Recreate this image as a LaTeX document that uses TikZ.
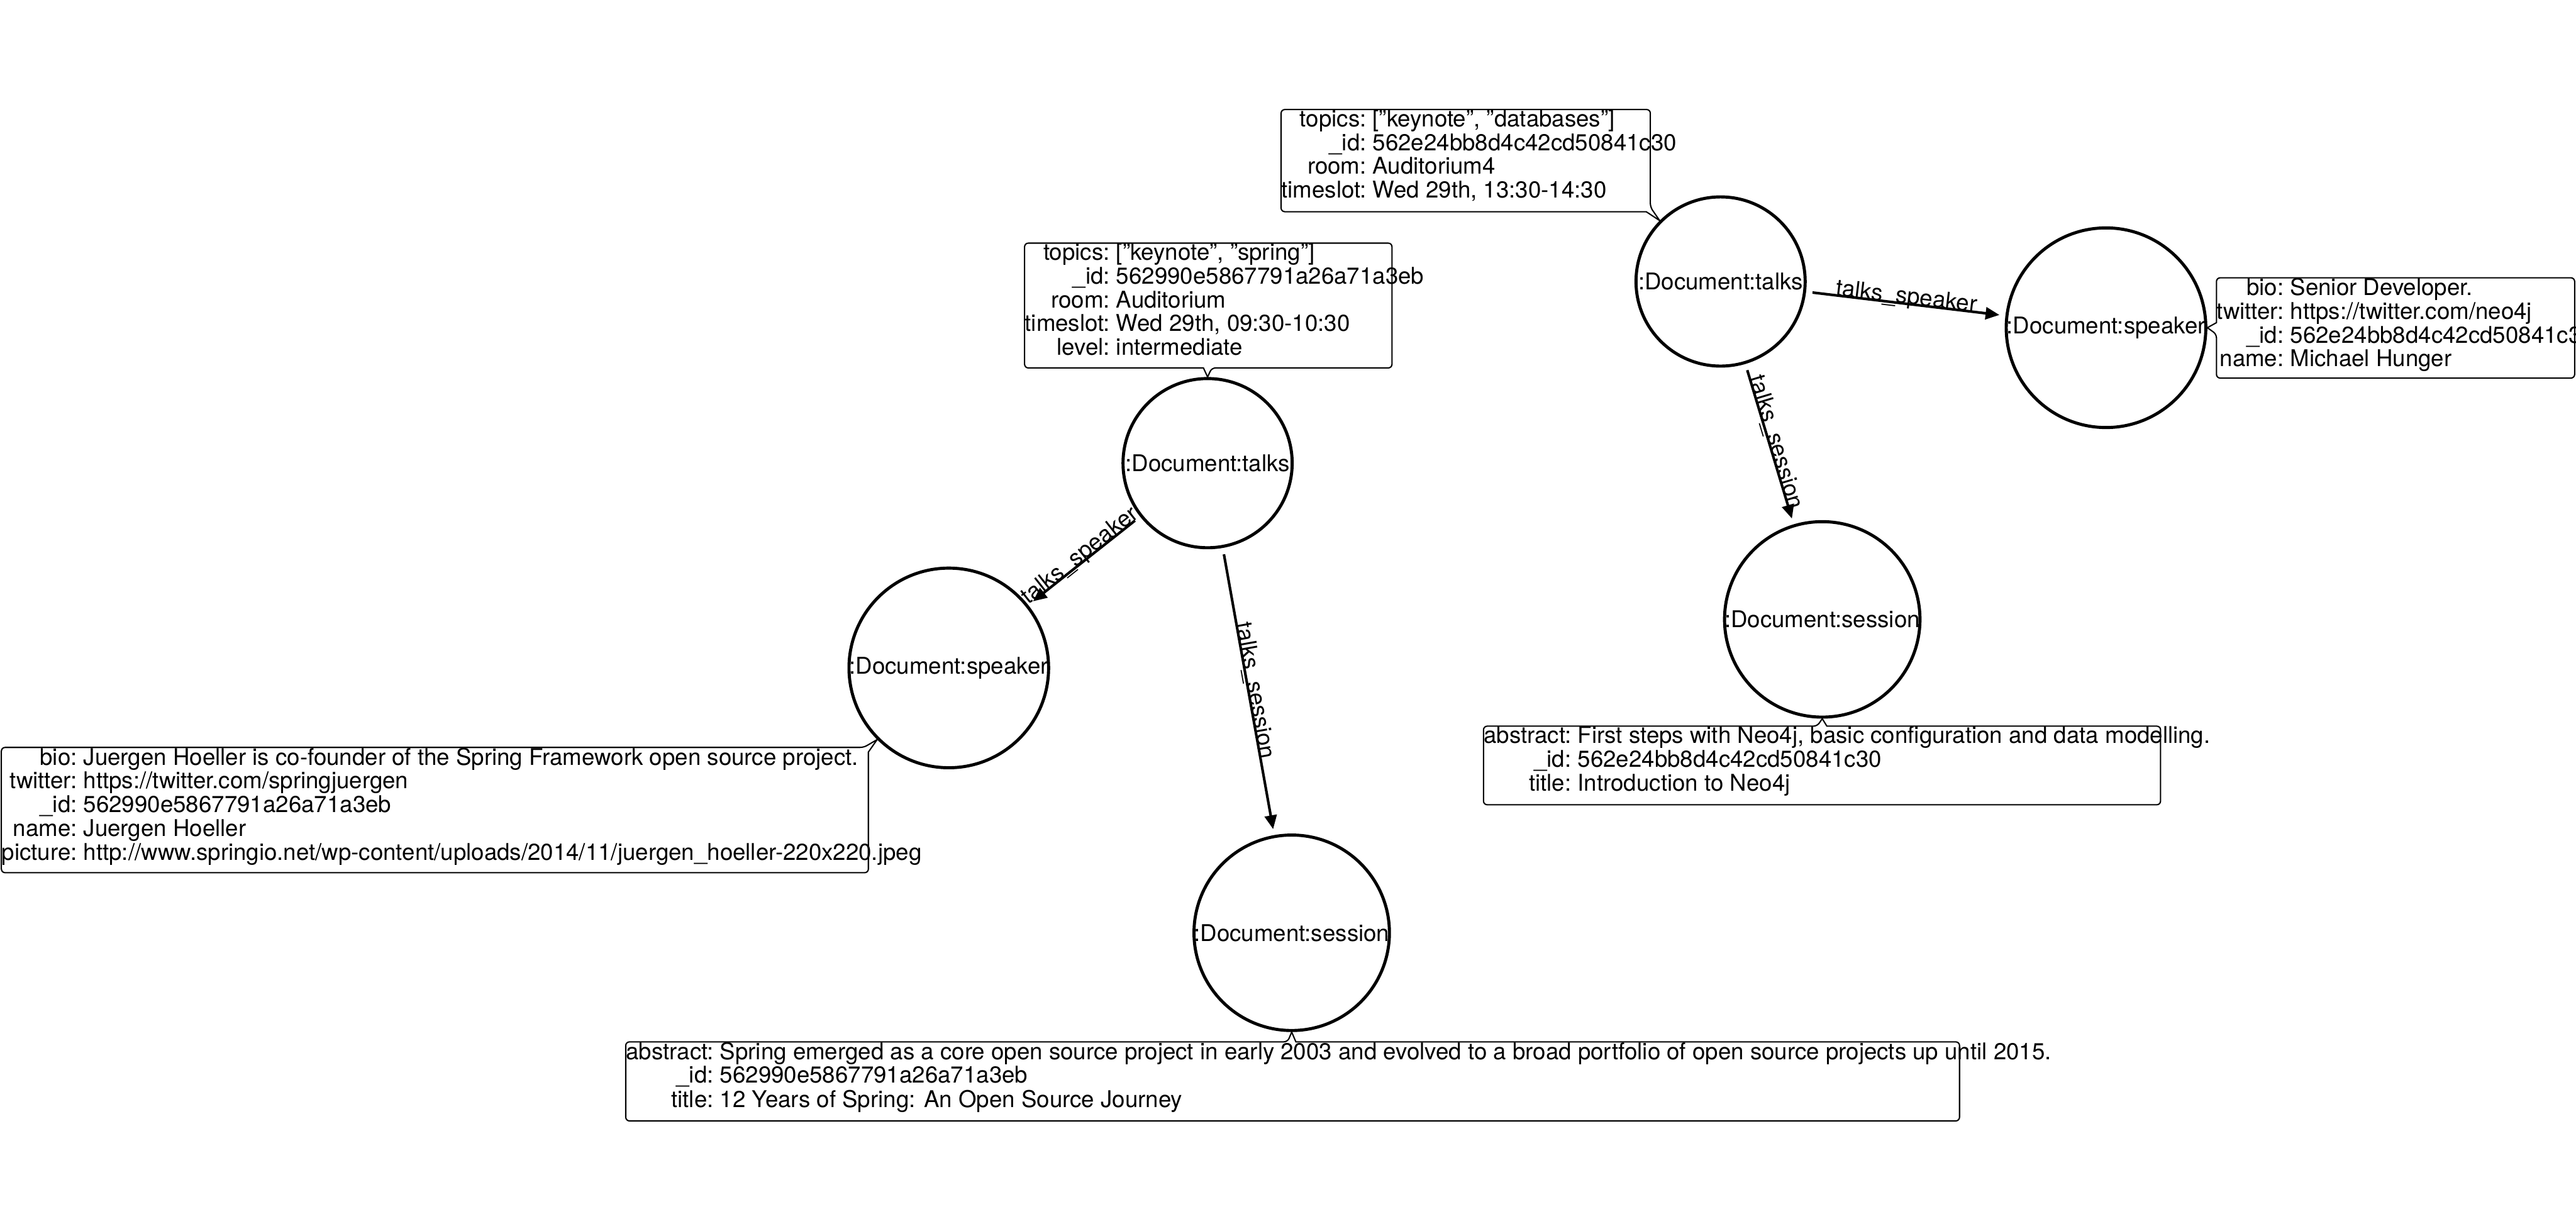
\documentclass[tikz,border=0pt]{standalone}
\usepackage{fontspec}
\setmainfont{TeX Gyre Heros}
\usetikzlibrary{arrows.meta,backgrounds}
\tikzset{
  docnode/.style={circle, draw=black, fill=white, line width=1.9pt, inner sep=0pt, minimum size=4.22cm},
  talknode/.style={docnode, minimum size=3.66cm},
  propbox/.style={draw=black, line width=0.8pt, rounded corners=0.8mm},
  proptext/.style={anchor=north west, inner sep=0pt},
  relline/.style={line width=1.6pt, -{Triangle[length=3mm, width=2.6mm]}, shorten <=1.4mm, shorten >=1.3mm},
  rellabel/.style={sloped, anchor=base, inner sep=0pt},
}

\begin{document}
\begin{tikzpicture}[font=\fontsize{14.2}{14.2}\selectfont]
\useasboundingbox (0,0) rectangle (55.74,26.63);
% documents
\node[talknode] (talksA) at (26.13,16.61) {:Document:talks};
\node[docnode] (speakerA) at (20.53,12.18) {:Document:speaker};
\node[docnode] (sessionA) at (27.95,6.45) {:Document:session};
\node[talknode] (talksB) at (37.23,20.54) {:Document:talks};
\node[docnode] (speakerB) at (45.57,19.54) {:Document:speaker};
\node[docnode] (sessionB) at (39.43,13.23) {:Document:session};
% relations
\begin{scope}[on background layer]
\draw[relline] (talksA) -- node[rellabel] {talks\_speaker} (speakerA);
\draw[relline] (talksA) -- node[rellabel] {talks\_session} (sessionA);
\draw[relline] (talksB) -- node[rellabel] {talks\_speaker} (speakerB);
\draw[relline] (talksB) -- node[rellabel] {talks\_session} (sessionB);
\end{scope}
% property boxes
\draw[propbox] (22.17,21.37) -- (30.12,21.37) -- (30.12,18.67) -- (26.22,18.67) [sharp corners] -- (talksA.north) -- (26.04,18.67) [rounded corners=0.8mm] -- (22.17,18.67) -- cycle;
\node[proptext] (talksAprops) at (22.17,21.37) {\begin{tabular}{@{}r@{\ }l@{}}
topics: & ["keynote", "spring"]\\
\_id: & 562990e5867791a26a71a3eb\\
room: & Auditorium\\
timeslot: & Wed 29th, 09:30-10:30\\
level: & intermediate
\end{tabular}};
\draw[propbox] (27.72,24.26) -- (35.71,24.26) -- (35.71,22.15) [sharp corners] -- (talksB.135) -- (35.62,22.05) [rounded corners=0.8mm] -- (27.72,22.05) -- cycle;
\node[proptext] (talksBprops) at (27.72,24.26) {\begin{tabular}{@{}r@{\ }l@{}}
topics: & ["keynote", "databases"]\\
\_id: & 562e24bb8d4c42cd50841c30\\
room: & Auditorium4\\
timeslot: & Wed 29th, 13:30-14:30
\end{tabular}};
\draw[propbox] (0.03,10.46) -- (18.69,10.46) [sharp corners] -- (speakerA.225) -- (18.79,10.36) [rounded corners=0.8mm] -- (18.79,7.75) -- (0.03,7.75) -- cycle;
\node[proptext] (speakerAprops) at (0.03,10.46) {\begin{tabular}{@{}r@{\ }l@{}}
bio: & Juergen Hoeller is co-founder of the Spring Framework open source project.\\
twitter: & https://twitter.com/springjuergen\\
\_id: & 562990e5867791a26a71a3eb\\
name: & Juergen Hoeller\\
picture: & http://www.springio.net/wp-content/uploads/2014/11/juergen\_hoeller-220x220.jpeg
\end{tabular}};
\draw[propbox] (13.54,4.09) -- (27.86,4.09) [sharp corners] -- (sessionA.south) -- (28.04,4.09) [rounded corners=0.8mm] -- (42.40,4.09) -- (42.40,2.38) -- (13.54,2.38) -- cycle;
\node[proptext] (sessionAprops) at (13.54,4.09) {\begin{tabular}{@{}r@{\ }l@{}}
abstract: & Spring emerged as a core open source project in early 2003 and evolved to a broad portfolio of open source projects up until 2015.\\
\_id: & 562990e5867791a26a71a3eb\\
title: & 12 Years of Spring: An Open Source Journey
\end{tabular}};
\draw[propbox] (47.96,20.62) -- (55.71,20.62) -- (55.71,18.45) -- (47.96,18.45) -- (47.96,19.40) [sharp corners] -- (speakerB.east) -- (47.96,19.65) [rounded corners=0.8mm] -- cycle;
\node[proptext] (speakerBprops) at (47.96,20.62) {\begin{tabular}{@{}r@{\ }l@{}}
bio: & Senior Developer.\\
twitter: & https://twitter.com/neo4j\\
\_id: & 562e24bb8d4c42cd50841c30\\
name: & Michael Hunger
\end{tabular}};
\draw[propbox] (32.10,10.92) -- (39.32,10.92) [sharp corners] -- (sessionB.south) -- (39.53,10.92) [rounded corners=0.8mm] -- (46.75,10.92) -- (46.75,9.22) -- (32.10,9.22) -- cycle;
\node[proptext] (sessionBprops) at (32.10,10.92) {\begin{tabular}{@{}r@{\ }l@{}}
abstract: & First steps with Neo4j, basic configuration and data modelling.\\
\_id: & 562e24bb8d4c42cd50841c30\\
title: & Introduction to Neo4j
\end{tabular}};
\end{tikzpicture}
\end{document}
